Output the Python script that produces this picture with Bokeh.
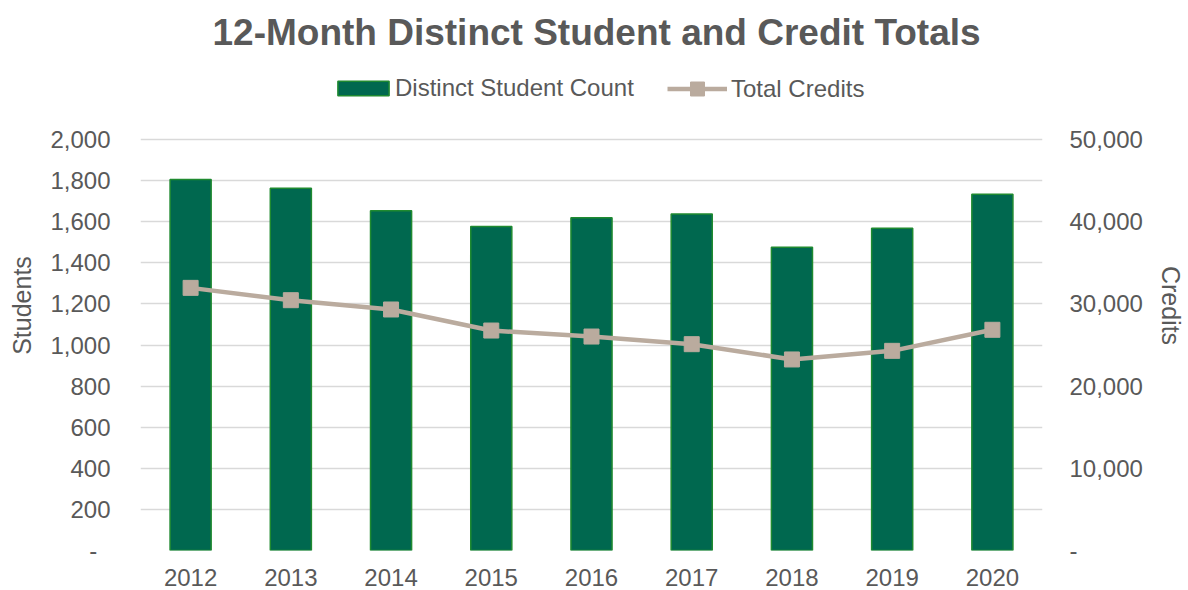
from bokeh.plotting import figure
from bokeh.models import (Range1d, LinearAxis, FixedTicker, CustomJSTickFormatter,
                          Legend, LegendItem, ColumnDataSource, FactorRange)
from bokeh.embed import file_html
from bokeh.resources import INLINE

years = ["2012", "2013", "2014", "2015", "2016", "2017", "2018", "2019", "2020"]
students = [1805, 1763, 1653, 1577, 1619, 1638, 1476, 1568, 1734]
credits = [31950, 30450, 29320, 26760, 26030, 25100, 23240, 24290, 26850]

left_ticks = list(range(0, 2001, 200))
right_ticks = list(range(0, 50001, 10000))

TXT = "#595959"
FONT = "Liberation Sans"

# plot frame spans canvas y 60..550; value 2000 / 50,000 sits at y=139
FRAME_TOP, AXIS_TOP, FRAME_BOTTOM = 60, 139, 550
stretch = (FRAME_BOTTOM - FRAME_TOP) / (FRAME_BOTTOM - AXIS_TOP)

src = ColumnDataSource(dict(year=years, students=students, credits=credits))

p = figure(width=1188, height=590, x_range=FactorRange(*years, range_padding=0),
           y_range=Range1d(0, max(left_ticks) * stretch), output_backend="svg",
           toolbar_location=None,
           min_border_left=140, min_border_right=146, min_border_top=FRAME_TOP,
           min_border_bottom=590 - FRAME_BOTTOM,
           title="12-Month Distinct Student and Credit Totals")
p.outline_line_color = None
p.background_fill_color = "white"
p.border_fill_color = "white"

p.title.text_font = FONT
p.title.text_font_size = "37px"
p.title.text_font_style = "bold"
p.title.text_color = TXT
p.title.align = "left"
p.title.offset = 72
p.title.standoff = 16

p.extra_y_ranges = {"credits": Range1d(0, max(right_ticks) * stretch)}

bars = p.vbar(x="year", top="students", width=0.41, source=src,
              fill_color="#00684F", line_color="#1F8A30", line_width=1.5)
ln = p.line(x="year", y="credits", source=src, y_range_name="credits",
            line_color="#BAAB9E", line_width=4.5)
mk = p.scatter(x="year", y="credits", source=src, y_range_name="credits",
               marker="square", size=15, fill_color="#BAAB9E", line_color="#BAAB9E")

# grid
p.xgrid.grid_line_color = None
p.ygrid.ticker = FixedTicker(ticks=left_ticks)
p.ygrid.grid_line_color = "#D9D9D9"
p.ygrid.grid_line_width = 1.5

# left axis
la = p.yaxis[0]
la.ticker = FixedTicker(ticks=left_ticks)
la.formatter = CustomJSTickFormatter(
    code="return tick == 0 ? '-\\u00a0\\u00a0' : tick.toLocaleString('en-US');")
la.axis_line_color = None
la.major_tick_line_color = None
la.minor_tick_line_color = None
la.major_label_standoff = 24
la.major_label_text_font = FONT
la.major_label_text_font_size = "24px"
la.major_label_text_color = TXT
la.axis_label = "Students"
la.axis_label_text_font = FONT
la.axis_label_text_font_size = "25px"
la.axis_label_text_font_style = "normal"
la.axis_label_text_color = TXT
la.axis_label_standoff = 11

# right axis
ra = LinearAxis(y_range_name="credits", ticker=FixedTicker(ticks=right_ticks),
                formatter=CustomJSTickFormatter(
                    code="return tick == 0 ? '-' : tick.toLocaleString('en-US');"))
ra.axis_line_color = None
ra.major_tick_line_color = None
ra.minor_tick_line_color = None
ra.major_label_standoff = 21
ra.major_label_text_font = FONT
ra.major_label_text_font_size = "24px"
ra.major_label_text_color = TXT
ra.axis_label = "Credits"
ra.axis_label_text_font = FONT
ra.axis_label_text_font_size = "25px"
ra.axis_label_text_font_style = "normal"
ra.axis_label_text_color = TXT
ra.axis_label_standoff = 11
p.add_layout(ra, "right")

# x axis
xa = p.xaxis[0]
xa.axis_line_color = None
xa.major_tick_line_color = None
xa.minor_tick_line_color = None
xa.major_label_standoff = 12
xa.major_label_text_font = FONT
xa.major_label_text_font_size = "24px"
xa.major_label_text_color = TXT

common = dict(orientation="horizontal", padding=0, margin=0, border_line_color=None,
              background_fill_alpha=0, label_text_font=FONT, label_text_font_size="24px",
              label_text_color=TXT)
leg1 = Legend(items=[LegendItem(label="Distinct Student Count", renderers=[bars])],
              location=(191, 448), glyph_width=64, glyph_height=18, label_standoff=0,
              **common)
leg2 = Legend(items=[LegendItem(label="Total Credits", renderers=[ln, mk])],
              location=(527, 444), glyph_width=60, glyph_height=35, label_standoff=4,
              **common)
p.add_layout(leg1)
p.add_layout(leg2)

open("out.html", "w").write(file_html(p, INLINE))
